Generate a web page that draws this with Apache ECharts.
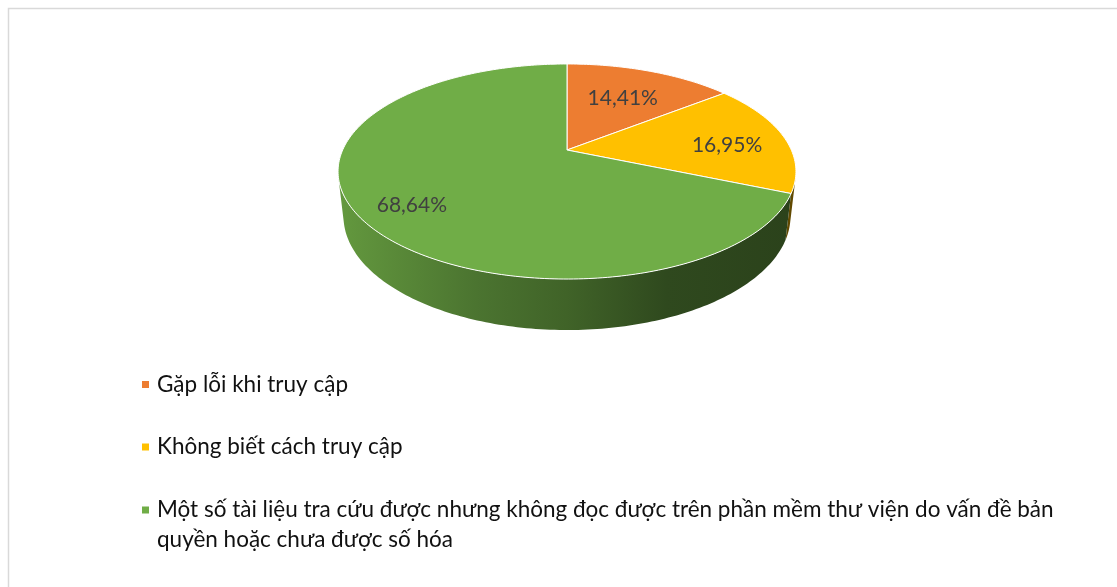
<!DOCTYPE html>
<html>
<head>
<meta charset="utf-8">
<script src="https://cdn.jsdelivr.net/npm/echarts@6/dist/echarts.min.js"></script>
<style>
  html, body { margin: 0; padding: 0; background: #ffffff; }
  #chart { width: 1117px; height: 587px; }
</style>
</head>
<body>
<div id="chart"></div>
<script>
// Reasons for difficulty when using the digital library (share of answers, %)
const categories = [
  'Gặp lỗi khi truy cập',
  'Không biết cách truy cập',
  'Một số tài liệu tra cứu được nhưng không đọc được trên phần mềm thư viện do vấn đề bản quyền hoặc chưa được số hóa'
];
const shares = [14.41, 16.95, 68.64];
const colors = ['#ED7D31', '#FFC000', '#70AD47'];

// Perspective view of the tilted disc (pixels / unit radius)
const view = {
  cx: 567, cy: 150,
  scale: 996,
  dist: 4.44,
  tilt: 27.4 * Math.PI / 180,
  thickness: 0.226
};
// Label placement along each slice's middle angle
const labelPlace = [
  { r: 0.62, dx: 1, dy: 0 },
  { r: 0.72, dx: 3, dy: 5 },
  { r: 0.76, dx: 0, dy: 7.5 }
];
// Brightness of the rim from left to right
const rimShade = [[0, 0.88], [0.3, 0.67], [0.5, 0.57], [0.72, 0.42], [1, 0.38]];

const cosT = Math.cos(view.tilt), sinT = Math.sin(view.tilt);

// theta: clockwise from the far side; r: fraction of radius; z: height
function project(theta, r, z) {
  const u = r * Math.sin(theta), v = r * Math.cos(theta);
  const depth = view.dist + v * cosT - z * sinT;
  return [
    view.cx + view.scale * u / depth,
    view.cy - view.scale * (v * sinT + z * cosT) / depth
  ];
}

function shade(hex, f) {
  const n = parseInt(hex.slice(1), 16);
  const r = Math.round(((n >> 16) & 255) * f);
  const g = Math.round(((n >> 8) & 255) * f);
  const b = Math.round((n & 255) * f);
  return 'rgb(' + r + ',' + g + ',' + b + ')';
}

const total = shares.reduce((a, b) => a + b, 0);
// Rim faces the viewer where cos(theta) < -1 / (dist * cos(tilt))
const frontStart = Math.acos(-1 / (view.dist * cosT));
const frontEnd = 2 * Math.PI - frontStart;

function arc(a, b, r, z, out) {
  const steps = Math.max(2, Math.ceil((b - a) / (Math.PI / 180)));
  for (let k = 0; k <= steps; k++) out.push(project(a + (b - a) * k / steps, r, z));
  return out;
}

function makeRender(idx) {
  return function (params, api) {
    const value = api.value(0);
    let before = 0;
    for (let k = 0; k < idx; k++) before += shares[k];
    const start = before / total * 2 * Math.PI;
    const end = start + value / total * 2 * Math.PI;
    const children = [];

    // visible part of the rim
    const lo = Math.max(start, frontStart), hi = Math.min(end, frontEnd);
    if (hi > lo) {
      const pts = arc(lo, hi, 1, 0, []);
      const bottom = arc(lo, hi, 1, -view.thickness, []).reverse();
      const left = project(3 * Math.PI / 2, 1, 0)[0] - 2;
      const right = project(Math.PI / 2, 1, 0)[0] + 2;
      children.push({
        type: 'polygon',
        z2: 1,
        shape: { points: pts.concat(bottom) },
        style: {
          fill: {
            type: 'linear', global: true,
            x: left, y: 0, x2: right, y2: 0,
            colorStops: rimShade.map(s => ({ offset: s[0], color: shade(colors[idx], s[1]) }))
          }
        }
      });
    }

    // top face of the slice
    const top = [project(0, 0, 0)];
    arc(start, end, 1, 0, top);
    children.push({
      type: 'polygon',
      z2: 10,
      shape: { points: top },
      style: { fill: colors[idx], stroke: '#ffffff', lineWidth: 1, lineJoin: 'round' }
    });

    // value label
    const lp = labelPlace[idx];
    const pos = project((start + end) / 2, lp.r, 0);
    children.push({
      type: 'text',
      z2: 20,
      style: {
        text: value.toFixed(2).replace('.', ',') + '%',
        x: pos[0] + lp.dx,
        y: pos[1] + lp.dy,
        align: 'center',
        verticalAlign: 'middle',
        fontFamily: 'Lato',
        fontSize: 21,
        fill: '#404040'
      }
    });
    return { type: 'group', children: children };
  };
}

const legendTops = [369.5, 432, 465];

// The long entry wraps before "quyền"; an empty leading line keeps its
// first line level with the marker.
function legendText(name, i) {
  if (i !== 2) return name;
  return '\n' + name.replace(' quyền', '\nquyền');
}

const chart = echarts.init(document.getElementById('chart'), null, { renderer: 'canvas' });
chart.setOption({
  animation: false,
  backgroundColor: '#ffffff',
  graphic: [{
    type: 'rect',
    silent: true,
    shape: { x: 8.5, y: 8.5, width: 1200, height: 700 },
    style: { fill: 'none', stroke: '#d9d9d9', lineWidth: 1.5 }
  }],
  legend: categories.map((name, i) => ({
    data: [name],
    orient: 'vertical',
    left: 142,
    top: legendTops[i],
    padding: 0,
    icon: 'rect',
    itemWidth: 7,
    itemHeight: 7,
    selectedMode: false,
    formatter: n => legendText(n, i),
    textStyle: {
      fontFamily: 'Lato',
      fontSize: 22.5,
      color: '#111111',
      lineHeight: 30,
      padding: [0, 0, 0, 3]
    }
  })),
  series: categories.map((name, i) => ({
    type: 'custom',
    name: name,
    coordinateSystem: 'none',
    silent: true,
    itemStyle: { color: colors[i] },
    data: [[shares[i]]],
    renderItem: makeRender(i)
  }))
});
</script>
</body>
</html>
